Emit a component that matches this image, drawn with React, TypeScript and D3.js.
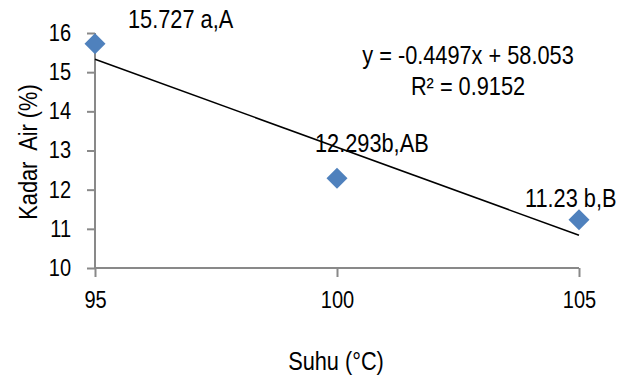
import React, { useRef, useEffect } from "react";
import * as d3 from "d3";

// suhu (x) vs kadar air (y)
const suhu = [95, 100, 105];
const kadarAir = [15.727, 12.293, 11.23];
const pointLabels = ["15.727 a,A", "12.293b,AB", "11.23 b,B"];
const xTicks = [95, 100, 105];
const yTicks = [10, 11, 12, 13, 14, 15, 16];
const slope = -0.4497;
const intercept = 58.053;
const rSquared = "0.9152";

// label offsets from each point (pixels)
const labelOffsets = [
  [33, -16],
  [-22, -26],
  [-54, -13],
];

const W = 618;
const H = 379;
const FONT = "'Liberation Sans', Arial, sans-serif";
const FS = 25;
const TICK_FS = 23;
const NARROW = 0.87; // fake Arial Narrow

// condensed text placed at (x, y)
const NText = ({ x, y, anchor = "start", rotate = 0, children }: any) => (
  <g transform={`translate(${x},${y}) rotate(${rotate}) scale(${NARROW},1)`}>
    <text textAnchor={anchor} fill="#000" style={{ whiteSpace: "pre" }}>{children}</text>
  </g>
);

const App = () => {
  const axRef = useRef<SVGGElement>(null);

  const x = d3.scaleLinear().domain([95, 105]).range([95, 579]);
  const y = d3.scaleLinear().domain([10, 16]).range([268, 33]);

  useEffect(() => {
    const g = d3.select(axRef.current);
    g.selectAll("*").remove();

    const yAxis = g.append("g")
      .attr("transform", `translate(${x(95)},0)`)
      .call(d3.axisLeft(y).tickValues(yTicks).tickSize(8).tickPadding(16).tickFormat(d3.format("d")));
    const xAxis = g.append("g")
      .attr("transform", `translate(0,${y(10)})`)
      .call(d3.axisBottom(x).tickValues(xTicks).tickSize(9).tickPadding(15).tickFormat(d3.format("d")));

    [yAxis, xAxis].forEach(a => {
      a.select(".domain").attr("stroke", "#898989").attr("stroke-width", 2);
      a.selectAll(".tick line").attr("stroke", "#898989").attr("stroke-width", 2);
      a.selectAll(".tick text")
        .attr("fill", "#000")
        .style("font-family", FONT)
        .style("font-size", TICK_FS + "px");
    });
    // squeeze tick labels like the narrow font
    yAxis.selectAll(".tick text")
      .attr("x", -24 / NARROW)
      .attr("transform", `scale(${NARROW},1)`);
    xAxis.selectAll(".tick text").attr("transform", `scale(${NARROW},1)`);

    // domain without outer ticks
    yAxis.select(".domain").attr("d", `M0,${y(16)}V${y(10)}`);
    xAxis.select(".domain").attr("d", `M${x(95)},0H${x(105)}`);
  }, []);

  const trend = d3.line<number>()
    .x(d => x(d))
    .y(d => y(slope * d + intercept));

  const diamond = d3.symbol().type(d3.symbolSquare).size(220)();

  return (
    <svg width={W} height={H} style={{ position: "absolute", left: 0, top: 0, background: "#fff" }}
      fontFamily={FONT} fontSize={FS}>
      <g ref={axRef} />
      <path d={trend([95, 105]) || ""} fill="none" stroke="#000" strokeWidth={1.6} />
      {suhu.map((s, i) => (
        <path key={"m" + i} d={diamond || ""}
          transform={`translate(${x(s)},${y(kadarAir[i])}) rotate(45)`}
          fill="#4F81BD" />
      ))}
      {suhu.map((s, i) => (
        <NText key={"l" + i} x={x(s) + labelOffsets[i][0]} y={y(kadarAir[i]) + labelOffsets[i][1]}>
          {pointLabels[i]}
        </NText>
      ))}
      <NText x={468} y={64} anchor="middle">{`y = ${slope}x + ${intercept}`}</NText>
      <NText x={468} y={95} anchor="middle">{`R² = ${rSquared}`}</NText>
      <NText x={37} y={152} anchor="middle" rotate={-90}>{"Kadar  Air (%)"}</NText>
      <NText x={336} y={370} anchor="middle">Suhu (°C)</NText>
    </svg>
  );
};

export default App;
